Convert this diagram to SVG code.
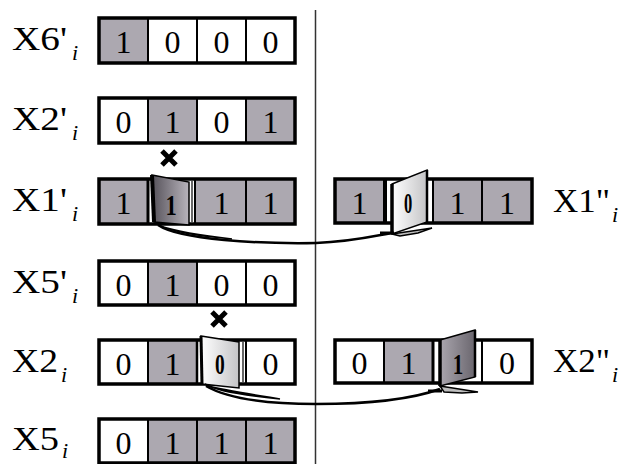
<svg xmlns="http://www.w3.org/2000/svg" width="631" height="464" viewBox="0 0 631 464">
<defs>
<linearGradient id="gDark" x1="0" y1="0" x2="1" y2="0"><stop offset="0" stop-color="#56525a"/><stop offset="1" stop-color="#b8b4bc"/></linearGradient>
<linearGradient id="gLight" x1="0" y1="0" x2="1" y2="0"><stop offset="0" stop-color="#ffffff"/><stop offset="1" stop-color="#c4c4c6"/></linearGradient>
<linearGradient id="gMid" x1="0" y1="0" x2="1" y2="0"><stop offset="0" stop-color="#aaa6ae"/><stop offset="1" stop-color="#6a666e"/></linearGradient>
</defs>
<style>
text{font-family:"Liberation Serif","Times New Roman",serif}
.g{fill:#aca8b0}
.w{fill:#ffffff}
.c{stroke:#000;stroke-width:2}
.o{fill:none;stroke:#000;stroke-width:3.5}
.d{font-size:32px;text-anchor:middle;fill:#000}
.db{font-size:30px;font-weight:bold;text-anchor:middle;fill:#000}
.l{font-size:33px;fill:#000}
.s{font-size:22px;font-style:italic;fill:#000}
.x{stroke:#000;stroke-width:5;stroke-linecap:butt}
.cn{fill:none;stroke:#000;stroke-width:2.5}
.sl{fill:#bdbdbd;stroke:#000;stroke-width:1.5}
.door{stroke:#000;stroke-width:1.5}
</style>
<rect width="631" height="464" fill="#fff"/>
<line x1="315.5" y1="10" x2="315.5" y2="464" stroke="#333" stroke-width="1.5"/>

<g id="X6p">
<rect x="99" y="18" width="49" height="45" class="g c"/><rect x="148" y="18" width="49" height="45" class="w c"/><rect x="197" y="18" width="49" height="45" class="w c"/><rect x="246" y="18" width="49" height="45" class="w c"/>
<rect x="99" y="18" width="196" height="45" class="o"/>
<text class="d" x="123.5" y="53">1</text><text class="d" x="172.5" y="53">0</text><text class="d" x="221.5" y="53">0</text><text class="d" x="270.5" y="53">0</text>
<text class="l" x="12" y="50" textLength="55" lengthAdjust="spacingAndGlyphs">X6'</text><text class="s" x="72" y="60">i</text>
</g>

<g id="X2p">
<rect x="99" y="98" width="49" height="45" class="w c"/><rect x="148" y="98" width="49" height="45" class="g c"/><rect x="197" y="98" width="49" height="45" class="w c"/><rect x="246" y="98" width="49" height="45" class="g c"/>
<rect x="99" y="98" width="196" height="45" class="o"/>
<text class="d" x="123.5" y="133">0</text><text class="d" x="172.5" y="133">1</text><text class="d" x="221.5" y="133">0</text><text class="d" x="270.5" y="133">1</text>
<text class="l" x="12" y="130" textLength="55" lengthAdjust="spacingAndGlyphs">X2'</text><text class="s" x="72" y="140">i</text>
</g>

<g id="X1p">
<rect x="99" y="179" width="49" height="45" class="g c"/><rect x="148" y="179" width="47" height="45" fill="#fff"/><rect x="195" y="179" width="51" height="45" class="g c"/><rect x="246" y="179" width="49" height="45" class="g c"/>
<rect x="99" y="179" width="196" height="45" class="o"/>
<line x1="148" y1="179" x2="148" y2="224" stroke="#000" stroke-width="3"/>
<line x1="192" y1="181" x2="192" y2="222" stroke="#000" stroke-width="1.2"/>
<polygon points="152,175 189,182 189,225 154,222" fill="url(#gDark)" class="door"/>
<line x1="152" y1="175" x2="154" y2="222" stroke="#000" stroke-width="4"/>
<text class="db" transform="translate(171,215) scale(0.75,1)">1</text>
<text class="d" x="123.5" y="214">1</text><text class="d" x="221.5" y="214">1</text><text class="d" x="270.5" y="214">1</text>
<text class="l" x="12" y="211" textLength="55" lengthAdjust="spacingAndGlyphs">X1'</text><text class="s" x="72" y="221">i</text>
<path class="x" d="M162,151 L176,165 M176,151 L162,165"/>
</g>

<g id="X5p">
<rect x="99" y="261" width="49" height="44" class="w c"/><rect x="148" y="261" width="49" height="44" class="g c"/><rect x="197" y="261" width="49" height="44" class="w c"/><rect x="246" y="261" width="49" height="44" class="w c"/>
<rect x="99" y="261" width="196" height="44" class="o"/>
<text class="d" x="123.5" y="296">0</text><text class="d" x="172.5" y="296">1</text><text class="d" x="221.5" y="296">0</text><text class="d" x="270.5" y="296">0</text>
<text class="l" x="12" y="293" textLength="55" lengthAdjust="spacingAndGlyphs">X5'</text><text class="s" x="72" y="303">i</text>
</g>

<g id="X2">
<rect x="99" y="340" width="49" height="44" class="w c"/><rect x="148" y="340" width="49" height="44" class="g c"/><rect x="197" y="340" width="47" height="44" fill="#fff"/><rect x="246" y="340" width="49" height="44" class="w c"/>
<rect x="99" y="340" width="196" height="44" class="o"/>
<line x1="197" y1="340" x2="197" y2="384" stroke="#000" stroke-width="2.5"/>
<line x1="243" y1="342" x2="243" y2="382" stroke="#000" stroke-width="1.2"/>
<polygon points="201,336 239,342 239,388 202,384" fill="url(#gLight)" class="door"/>
<line x1="201" y1="336" x2="202" y2="384" stroke="#000" stroke-width="3"/>
<text class="db" transform="translate(220,374) scale(0.65,1)">0</text>
<text class="d" x="123.5" y="375">0</text><text class="d" x="172.5" y="375">1</text><text class="d" x="270.5" y="375">0</text>
<text class="l" x="12" y="372" textLength="46" lengthAdjust="spacingAndGlyphs">X2</text><text class="s" x="61" y="382">i</text>
<path class="x" d="M212,312 L226,326 M226,312 L212,326"/>
</g>

<g id="X5">
<rect x="99" y="419" width="49" height="44" class="w c"/><rect x="148" y="419" width="49" height="44" class="g c"/><rect x="197" y="419" width="49" height="44" class="g c"/><rect x="246" y="419" width="49" height="44" class="g c"/>
<rect x="99" y="419" width="196" height="44" class="o"/>
<text class="d" x="123.5" y="454">0</text><text class="d" x="172.5" y="454">1</text><text class="d" x="221.5" y="454">1</text><text class="d" x="270.5" y="454">1</text>
<text class="l" x="12" y="450" textLength="47" lengthAdjust="spacingAndGlyphs">X5</text><text class="s" x="62" y="458">i</text>
</g>

<g id="X1pp">
<rect x="335" y="179" width="49" height="44" class="g c"/><rect x="384" y="179" width="49" height="44" fill="#fff"/><rect x="433" y="179" width="49" height="44" class="g c"/><rect x="482" y="179" width="50" height="44" class="g c"/>
<rect x="335" y="179" width="197" height="44" class="o"/>
<line x1="385" y1="179" x2="385" y2="223" stroke="#000" stroke-width="4"/>
<polygon points="392,184 427,170 427,222 392,234" fill="url(#gLight)" class="door"/>
<line x1="392" y1="184" x2="392" y2="234" stroke="#000" stroke-width="3.5"/>
<line x1="427" y1="170" x2="427" y2="222" stroke="#000" stroke-width="2.5"/>
<text class="db" transform="translate(408,213) scale(0.55,1)">0</text>
<text class="d" x="359.5" y="214">1</text><text class="d" x="457.5" y="214">1</text><text class="d" x="507" y="214">1</text>
<text class="l" x="553" y="212" textLength="57" lengthAdjust="spacingAndGlyphs">X1"</text><text class="s" x="612" y="222">i</text>
</g>

<g id="X2pp">
<rect x="335" y="340" width="49" height="43" class="w c"/><rect x="384" y="340" width="49" height="43" class="g c"/><rect x="433" y="340" width="49" height="43" fill="#fff"/><rect x="482" y="340" width="50" height="43" class="w c"/>
<rect x="335" y="340" width="197" height="43" class="o"/>
<line x1="433" y1="340" x2="433" y2="383" stroke="#000" stroke-width="3"/>
<polygon points="440,340 475,330 475,377 440,386" fill="url(#gMid)" class="door"/>
<line x1="440" y1="340" x2="440" y2="386" stroke="#000" stroke-width="3.5"/>
<line x1="475" y1="330" x2="475" y2="377" stroke="#000" stroke-width="2.5"/>
<text class="db" transform="translate(458,374) scale(0.7,1)">1</text>
<text class="d" x="359.5" y="374">0</text><text class="d" x="408.5" y="374">1</text><text class="d" x="507" y="374">0</text>
<text class="l" x="553" y="372" textLength="57" lengthAdjust="spacingAndGlyphs">X2"</text><text class="s" x="612" y="382">i</text>
</g>

<g id="connectors">
<path class="sl" d="M156,223 C168,232 200,236 232,239 C205,236 178,232 160,226 Z"/>
<path class="cn" d="M158,225 C180,240 260,244 316,243 C350,242 375,236 392,233"/>
<path class="sl" d="M392,234 L432,228 L418,233 L400,236 Z"/>
<line x1="380" y1="233" x2="394" y2="233" stroke="#000" stroke-width="3"/>
<path class="sl" d="M205,384 C218,392 250,396 280,399 C250,394 225,390 208,386 Z"/>
<path class="cn" d="M206,386 C230,400 270,404 316,404 C380,404 415,398 440,389"/>
<path class="sl" d="M440,386 L478,392 L462,393 L444,392 Z"/>
<line x1="428" y1="391" x2="442" y2="391" stroke="#000" stroke-width="3"/>
</g>
</svg>
